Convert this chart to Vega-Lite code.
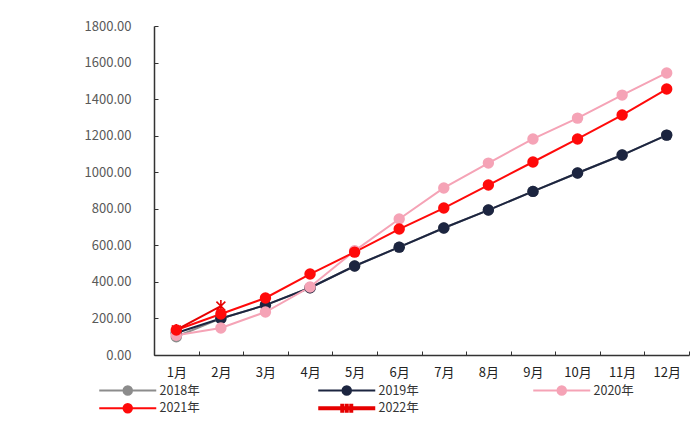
{
  "$schema": "https://vega.github.io/schema/vega-lite/v6.json",
  "width": 535,
  "height": 329,
  "autosize": "none",
  "padding": {"left": 154, "top": 26, "right": 10, "bottom": 70},
  "background": "white",
  "config": {
    "view": {"stroke": null},
    "font": "Noto Sans CJK SC"
  },
  "data": {
    "values": [
      {"month": "1月", "series": "2018年", "value": 100},
      {"month": "2月", "series": "2018年", "value": 200},
      {"month": "3月", "series": "2018年", "value": 273},
      {"month": "4月", "series": "2018年", "value": 368},
      {"month": "5月", "series": "2018年", "value": 487},
      {"month": "6月", "series": "2018年", "value": 590},
      {"month": "7月", "series": "2018年", "value": 695},
      {"month": "8月", "series": "2018年", "value": 793},
      {"month": "9月", "series": "2018年", "value": 895},
      {"month": "10月", "series": "2018年", "value": 996},
      {"month": "11月", "series": "2018年", "value": 1094},
      {"month": "12月", "series": "2018年", "value": 1203},
      {"month": "1月", "series": "2019年", "value": 120},
      {"month": "2月", "series": "2019年", "value": 200},
      {"month": "3月", "series": "2019年", "value": 273},
      {"month": "4月", "series": "2019年", "value": 368},
      {"month": "5月", "series": "2019年", "value": 487},
      {"month": "6月", "series": "2019年", "value": 590},
      {"month": "7月", "series": "2019年", "value": 695},
      {"month": "8月", "series": "2019年", "value": 793},
      {"month": "9月", "series": "2019年", "value": 895},
      {"month": "10月", "series": "2019年", "value": 996},
      {"month": "11月", "series": "2019年", "value": 1094},
      {"month": "12月", "series": "2019年", "value": 1203},
      {"month": "1月", "series": "2020年", "value": 108},
      {"month": "2月", "series": "2020年", "value": 148},
      {"month": "3月", "series": "2020年", "value": 235},
      {"month": "4月", "series": "2020年", "value": 372},
      {"month": "5月", "series": "2020年", "value": 570},
      {"month": "6月", "series": "2020年", "value": 744},
      {"month": "7月", "series": "2020年", "value": 914},
      {"month": "8月", "series": "2020年", "value": 1050},
      {"month": "9月", "series": "2020年", "value": 1182},
      {"month": "10月", "series": "2020年", "value": 1296},
      {"month": "11月", "series": "2020年", "value": 1422},
      {"month": "12月", "series": "2020年", "value": 1543},
      {"month": "1月", "series": "2021年", "value": 137},
      {"month": "2月", "series": "2021年", "value": 224},
      {"month": "3月", "series": "2021年", "value": 312},
      {"month": "4月", "series": "2021年", "value": 443},
      {"month": "5月", "series": "2021年", "value": 563},
      {"month": "6月", "series": "2021年", "value": 689},
      {"month": "7月", "series": "2021年", "value": 804},
      {"month": "8月", "series": "2021年", "value": 930},
      {"month": "9月", "series": "2021年", "value": 1056},
      {"month": "10月", "series": "2021年", "value": 1182},
      {"month": "11月", "series": "2021年", "value": 1313},
      {"month": "12月", "series": "2021年", "value": 1455},
      {"month": "1月", "series": "2022年", "value": 137},
      {"month": "2月", "series": "2022年", "value": 268}
    ]
  },
  "encoding": {
    "x": {
      "field": "month",
      "type": "ordinal",
      "sort": ["1月","2月","3月","4月","5月","6月","7月","8月","9月","10月","11月","12月"],
      "scale": {"paddingInner": 0, "paddingOuter": 0},
      "axis": {
        "title": null,
        "labelAngle": 0,
        "tickBand": "extent",
        "tickSize": -4,
        "labelPadding": 15,
        "labelFontSize": 13,
        "labelColor": "#222222",
        "domainColor": "#333333",
        "tickColor": "#333333",
        "domainWidth": 1.5
      }
    },
    "y": {
      "field": "value",
      "type": "quantitative",
      "scale": {"domain": [0, 1800], "nice": false},
      "axis": {
        "title": null,
        "values": [0,200,400,600,800,1000,1200,1400,1600,1800],
        "format": ".2f",
        "grid": false,
        "tickSize": -4,
        "labelPadding": 27,
        "labelFontSize": 13,
        "labelColor": "#595959",
        "domainColor": "#333333",
        "tickColor": "#333333",
        "domainWidth": 1.5
      }
    },
    "color": {
      "field": "series",
      "type": "nominal",
      "scale": {
        "domain": ["2018年","2019年","2020年","2021年","2022年"],
        "range": ["#8c8c8c","#1c2540","#f5a3b6","#ff0a0a","#e60000"]
      },
      "legend": {
        "title": null,
        "orient": "none",
        "legendX": -56,
        "legendY": 358,
        "direction": "horizontal",
        "columns": 3,
        "columnPadding": 110,
        "rowPadding": -4,
        "labelFontSize": 12.5,
        "labelColor": "#333333",
        "labelOffset": 49,
        "symbolSize": 100,
        "symbolStrokeWidth": 2,
        "encode": {
          "symbols": {
            "update": {
              "shape": {"signal": "datum.value === '2022年' ? 'M-1,0L10.4,0M3.8,-0.9L3.8,0.9M4.7,-0.9L4.7,0.9M5.6,-0.9L5.6,0.9' : 'M-1,0L10.4,0M3.85,0A0.85,0.85 0 1,0 5.55,0A0.85,0.85 0 1,0 3.85,0Z'"},
              "strokeWidth": {"signal": "datum.value === '2022年' ? 4 : 2"},
              "fill": {"scale": "color", "field": "value"},
              "stroke": {"scale": "color", "field": "value"},
              "opacity": {"value": 1},
              "fillOpacity": {"value": 1}
            }
          }
        }
      }
    }
  },
  "layer": [
    {
      "mark": {"type": "line", "strokeWidth": 2},
      "encoding": {
        "strokeWidth": {
          "condition": {"test": "datum.series === '2022年'", "value": 4},
          "value": 2
        }
      }
    },
    {
      "transform": [{"filter": "datum.series === '2022年'"}],
      "mark": {
        "type": "point",
        "filled": false,
        "shape": "M-0.75,-0.75L0.75,0.75M0.75,-0.75L-0.75,0.75M0,-1L0,1",
        "size": 140,
        "strokeWidth": 1.6,
        "opacity": 1
      }
    },
    {
      "transform": [{"filter": "datum.series !== '2022年'"}],
      "mark": {"type": "point", "filled": true, "shape": "circle", "size": 130, "opacity": 1}
    }
  ]
}
